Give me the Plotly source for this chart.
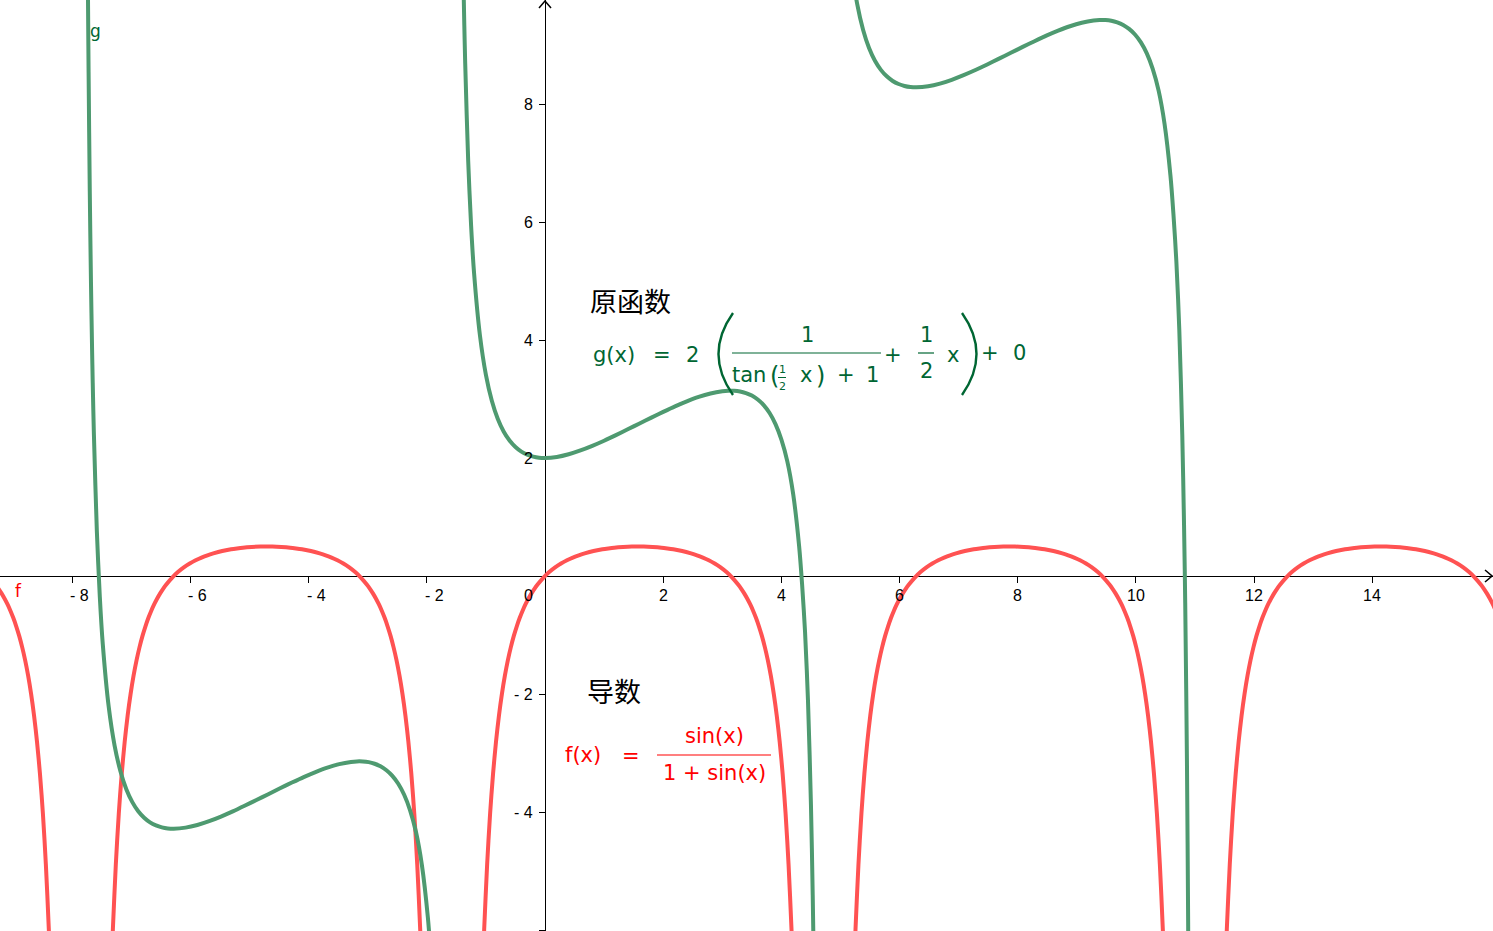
import plotly.graph_objects as go

W, H = 1493, 931
X_RANGE = [-9.222, 16.041]
Y_RANGE = [-6.017, 9.763]

# f(x) = sin(x) / (1 + sin(x)) : one arch, read relative to its peak (period 2*pi)
f_offset = [-2.62, -2.6, -2.55, -2.5, -2.45, -2.4, -2.35, -2.3, -2.25, -2.2,
            -2.15, -2.1, -2.05, -2.0, -1.95, -1.9, -1.85, -1.8, -1.75, -1.7,
            -1.6, -1.5, -1.4, -1.3, -1.2, -1.1, -1.0, -0.9, -0.75, -0.6,
            -0.5, -0.4, -0.25, -0.1, 0.0, 0.1, 0.25, 0.4, 0.5, 0.6,
            0.75, 0.9, 1.0, 1.1, 1.2, 1.3, 1.4, 1.5, 1.6, 1.7,
            1.75, 1.8, 1.85, 1.9, 1.95, 2.0, 2.05, 2.1, 2.15, 2.2,
            2.25, 2.3, 2.35, 2.4, 2.45, 2.5, 2.55, 2.6, 2.62]
f_value = [-6.52, -5.988, -4.886, -4.028, -3.352, -2.808, -2.364, -1.997, -1.69, -1.43,
           -1.21, -1.019, -0.856, -0.713, -0.588, -0.478, -0.381, -0.294, -0.217, -0.148,
           -0.03, 0.066, 0.145, 0.211, 0.266, 0.312, 0.351, 0.383, 0.423, 0.452,
           0.467, 0.48, 0.492, 0.499, 0.5, 0.499, 0.492, 0.48, 0.467, 0.452,
           0.423, 0.383, 0.351, 0.312, 0.266, 0.211, 0.145, 0.066, -0.03, -0.148,
           -0.217, -0.294, -0.381, -0.478, -0.588, -0.713, -0.856, -1.019, -1.21, -1.43,
           -1.69, -1.997, -2.364, -2.808, -3.352, -4.028, -4.886, -5.988, -6.52]
f_peak_x = [-10.996, -4.712, 1.571, 7.854, 14.137]

# g(x) : the branch through (0, 2); neighbours repeat shifted by (2*pi, 2*pi)
g_x = [-1.46, -1.45, -1.44, -1.42, -1.4, -1.38, -1.37, -1.36, -1.35, -1.3,
       -1.25, -1.2, -1.1, -1.0, -0.9, -0.8, -0.7, -0.6, -0.5, -0.4,
       -0.3, -0.2, -0.1, 0.0, 0.2, 0.4, 0.6, 0.8, 1.0, 1.2,
       1.4, 1.6, 1.8, 2.0, 2.2, 2.4, 2.6, 2.8, 3.0, 3.1,
       3.2, 3.3, 3.4, 3.5, 3.6, 3.7, 3.8, 3.9, 4.0, 4.1,
       4.2, 4.3, 4.35, 4.4, 4.45, 4.5, 4.53, 4.55, 4.58, 4.6, 4.61]
g_y = [17.57, 16.05, 14.83, 12.81, 11.28, 10.07, 9.56, 9.09, 8.68, 7.04,
       5.93, 5.13, 4.07, 3.41, 2.97, 2.665, 2.45, 2.296, 2.186, 2.108,
       2.056, 2.023, 2.005, 2.0, 2.018, 2.063, 2.128, 2.206, 2.293, 2.388,
       2.486, 2.585, 2.685, 2.782, 2.875, 2.96, 3.035, 3.094, 3.132, 3.141,
       3.14, 3.128, 3.101, 3.058, 2.991, 2.896, 2.762, 2.575, 2.312, 1.943,
       1.383, 0.505, -0.139, -0.948, -2.116, -3.882, -5.41, -6.74, -9.51, -12.22, -13.96]
g_shift = [-6.283, 0.0, 6.283]

x_ticks = [-8, -6, -4, -2, 2, 4, 6, 8, 10, 12, 14]
y_ticks = [-6, -4, -2, 2, 4, 6, 8]
y_tick_labels = [-4, -2, 2, 4, 6, 8]

RED = 'rgb(255,82,82)'
GREEN = 'rgb(78,154,112)'
RED_TEXT = '#ff0000'
GREEN_TEXT = '#006633'
MATH_FONT = 'DejaVu Sans'
CJK_FONT = 'Noto Sans CJK SC'
AXIS_FONT = 'Liberation Sans'


def px(x, y):
    return x / W, 1 - y / H


def label(x, y, s, size=21, color=GREEN_TEXT, anchor='center', family=MATH_FONT):
    xp, yp = px(x, y)
    return dict(xref='paper', yref='paper', x=xp, y=yp, text=s, showarrow=False,
                xanchor=anchor, yanchor='middle',
                font=dict(size=size, color=color, family=family))


def bar(x0, x1, y, color, width=1.2):
    a, b = px(x0, y)
    c, _ = px(x1, y)
    return dict(type='line', xref='paper', yref='paper', x0=a, x1=c, y0=b, y1=b,
                line=dict(color=color, width=width))


def path(points, color, width=1.3):
    pts = [px(x, y) for x, y in points]
    d = 'M ' + ' L '.join(f'{a:.5f},{b:.5f}' for a, b in pts)
    return dict(type='path', xref='paper', yref='paper', path=d,
                line=dict(color=color, width=width))


def curve(p0, c, p1, color, width=2.4):
    (a, b), (e, f), (g, h) = px(*p0), px(*c), px(*p1)
    return dict(type='path', xref='paper', yref='paper',
                path=f'M {a:.5f},{b:.5f} Q {e:.5f},{f:.5f} {g:.5f},{h:.5f}',
                line=dict(color=color, width=width))


fig = go.Figure()

for peak in f_peak_x:
    fig.add_trace(go.Scatter(x=[peak + d for d in f_offset], y=f_value, mode='lines',
                             line=dict(color=RED, width=4, shape='spline', smoothing=0.8),
                             hoverinfo='skip', showlegend=False))

for s in g_shift:
    fig.add_trace(go.Scatter(x=[v + s for v in g_x], y=[v + s for v in g_y], mode='lines',
                             line=dict(color=GREEN, width=4, shape='spline', smoothing=0.8),
                             hoverinfo='skip', showlegend=False))

x0_paper = -X_RANGE[0] / (X_RANGE[1] - X_RANGE[0])
y0_paper = -Y_RANGE[0] / (Y_RANGE[1] - Y_RANGE[0])

tick_font = dict(size=16, color='black', family=AXIS_FONT)
annotations = []
for v in x_ticks:
    if v < 0:
        annotations.append(dict(x=v, y=0, xref='x', yref='y', text=f'- {-v}', showarrow=False,
                                xanchor='left', yanchor='middle', xshift=-4, yshift=-19,
                                font=tick_font))
    else:
        annotations.append(dict(x=v, y=0, xref='x', yref='y', text=str(v), showarrow=False,
                                xanchor='center', yanchor='middle', yshift=-19,
                                font=tick_font))
for v in y_tick_labels:
    t = f'- {-v}' if v < 0 else str(v)
    annotations.append(dict(x=0, y=v, xref='x', yref='y', text=t, showarrow=False,
                            xanchor='right', yanchor='middle', xshift=-10,
                            font=tick_font))
annotations.append(dict(x=0, y=0, xref='x', yref='y', text='0', showarrow=False,
                        xanchor='center', yanchor='middle', xshift=-17, yshift=-19,
                        font=tick_font))

# curve names
annotations.append(label(95, 31, 'g', size=17, color=GREEN_TEXT))
annotations.append(label(18, 591, 'f', size=17, color=RED_TEXT))

# primitive: g(x) = 2 ( 1 / (tan(1/2 x) + 1) + 1/2 x ) + 0
annotations += [
    label(588, 301, '原函数', size=27, color='black', anchor='left', family=CJK_FONT),
    label(591, 355, 'g(x)', anchor='left'),
    label(662, 355, '='),
    label(692, 355, '2'),
    label(807, 335, '1'),
    label(730, 375, 'tan', anchor='left'),
    label(774, 376, '(', size=24),
    label(782, 369, '1', size=11),
    label(782, 386, '2', size=11),
    label(806, 375, 'x'),
    label(820, 376, ')', size=24),
    label(846, 375, '+'),
    label(872, 375, '1'),
    label(893, 355, '+'),
    label(926, 335, '1'),
    label(926, 371, '2'),
    label(953, 355, 'x'),
    label(990, 353, '+'),
    label(1019, 353, '0'),
]

# derivative: f(x) = sin(x) / (1 + sin(x))
annotations += [
    label(585, 690, '导数', size=27, color='black', anchor='left', family=CJK_FONT),
    label(563, 755, 'f(x)', color=RED_TEXT, anchor='left'),
    label(631, 756, '=', color=RED_TEXT),
    label(714, 736, 'sin(x)', color=RED_TEXT),
    label(714, 773, '1 + sin(x)', color=RED_TEXT),
]

shapes = [
    bar(732, 881, 353, GREEN_TEXT),
    bar(778, 786, 377.5, GREEN_TEXT, width=1),
    bar(918, 934, 353, GREEN_TEXT),
    curve((733, 313), (704, 354), (733, 395), GREEN_TEXT),
    curve((962, 313), (991, 354), (962, 395), GREEN_TEXT),
    bar(657, 771, 755, RED_TEXT),
    # axis arrow heads
    path([(1485, 570), (1492, 576), (1485, 582)], 'black', width=1.5),
    path([(539, 8), (545, 1), (551, 8)], 'black', width=1.5),
]

fig.update_layout(
    width=W, height=H,
    margin=dict(l=0, r=0, t=0, b=0),
    paper_bgcolor='white', plot_bgcolor='white',
    showlegend=False, hovermode=False,
    annotations=annotations, shapes=shapes,
    xaxis=dict(range=X_RANGE, showgrid=False, zeroline=False, showline=True,
               linecolor='black', linewidth=1.3, anchor='free', position=y0_paper,
               ticks='outside', ticklen=6, tickwidth=1.3, tickcolor='black',
               tickvals=x_ticks, showticklabels=False, layer='below traces'),
    yaxis=dict(range=Y_RANGE, showgrid=False, zeroline=False, showline=True,
               linecolor='black', linewidth=1.3, anchor='free', position=x0_paper,
               ticks='outside', ticklen=6, tickwidth=1.3, tickcolor='black',
               tickvals=y_ticks, showticklabels=False, layer='below traces'),
)

fig.write_html('out.html', config={'displayModeBar': False},
               post_script="document.body.style.margin='0';")
